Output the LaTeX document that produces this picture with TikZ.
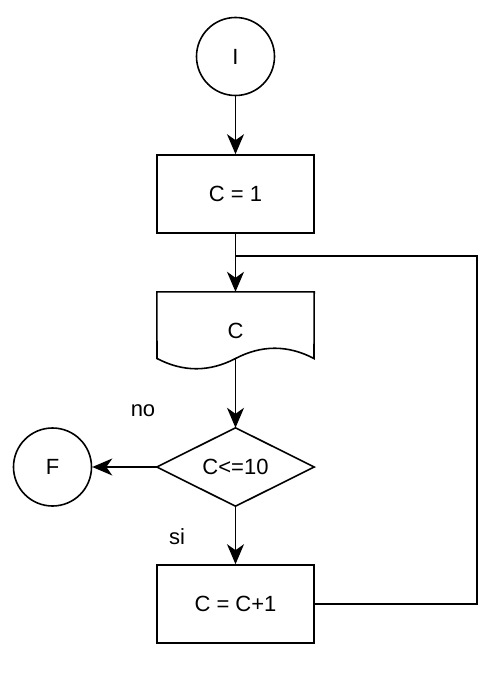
\documentclass[tikz,border=0pt]{standalone}
\usepackage{fontspec}
\setmainfont{Liberation Sans}
\usetikzlibrary{arrows.meta}
\begin{document}
\begin{tikzpicture}[x=1pt,y=-1pt,
  every node/.style={font=\fontsize{22}{26}\selectfont},
  line/.style={line width=1.6pt,black},
  arr/.style={line, -{Stealth[length=20pt,width=17pt,inset=6pt]}},
  terminal/.style={circle,draw,line width=1.6pt,minimum size=78pt,inner sep=0pt},
  proc/.style={rectangle,draw,line width=1.6pt,minimum width=157pt,minimum height=78pt,inner sep=0pt},
  frame/.style={rectangle,minimum width=157pt,minimum height=78pt,inner sep=0pt},
  lbl/.style={inner sep=0pt}]
\useasboundingbox (0,0) rectangle (494,700);

% start / end terminals
\node[terminal] (I) at (235.5,56.5) {I};
\node[terminal] (F) at (52.5,467) {F};

% process steps
\node[proc] (c1) at (235.5,194) {C = 1};
\node[proc] (c2) at (235.5,604) {C = C+1};

% document (output) block with wavy lower edge
\node[frame] (doc) at (235.5,331) {};
\draw[line] (doc.north west) -- (doc.north east) -- (314,358.5)
  .. controls (287.83,344.83) and (261.67,344.83) .. (235.5,358.5) coordinate (docb)
  .. controls (209.33,372.17) and (183.17,372.17) .. (157,358.5) -- cycle;
\node at (235.5,331) {C};

% decision
\node[frame] (dec) at (235.5,467) {C<=10};
\draw[line] (dec.north) -- (dec.east) -- (dec.south) -- (dec.west) -- cycle;

% flow
\draw[arr] (I) -- (c1);
\draw[arr] (c1) -- (doc.north);
\draw[arr] (docb) -- (dec.north);
\draw[arr] (dec.west) -- (F);
\draw[arr] (dec.south) -- (c2);

% loop back
\coordinate (j) at (235.5,256);
\draw[line] (c2.east) -| (477,256) -- (j);

% branch labels
\node[lbl] (no) at (143,411) {no};
\node[lbl] (si) at (177,537) {si};
\end{tikzpicture}
\end{document}
